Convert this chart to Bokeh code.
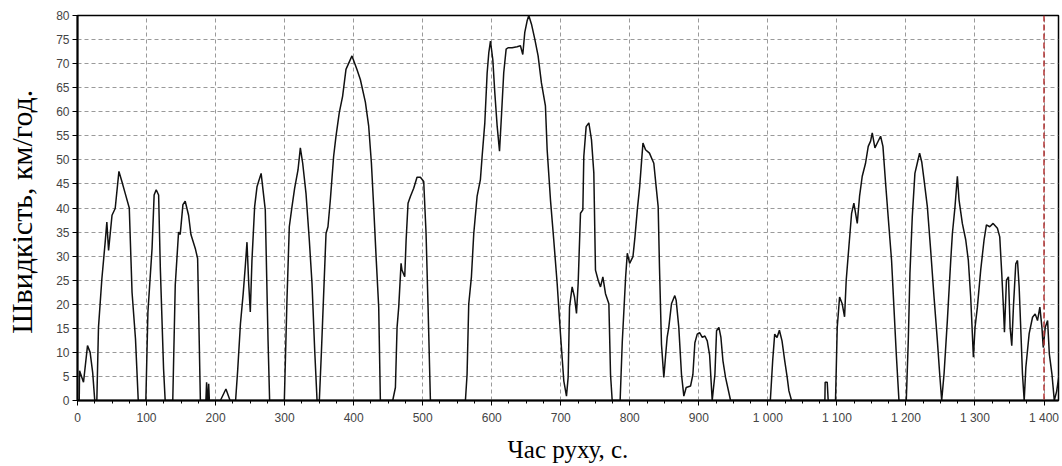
from bokeh.plotting import figure
from bokeh.models import Range1d, FixedTicker, Span
from bokeh.embed import file_html
from bokeh.resources import INLINE

# time, s
t = [0, 2.5, 3, 8.7, 14.5, 18.3, 22, 25, 28, 30.4, 35.3, 40.1, 42.5, 45, 50, 54.6, 60, 64.3, 69, 75, 79, 84, 88,
     99, 102, 108, 111, 114, 117.5, 120, 124.7, 127,
     138, 141.6, 146.4, 148.8, 152.7, 156, 160.9, 164.3, 170.6, 174, 178,
     186, 187, 188, 189, 190, 191, 207, 215, 221,
     229, 232, 236, 240, 243, 245.5, 248, 250.3, 252.7, 256.6, 260, 266, 272, 276, 278.3,
     299.6, 303.4, 306.8, 310.7, 314.5, 319.4, 322.8, 326.2, 331, 335.8, 339.7, 343.6, 347,
     350.3, 353.2, 355.1, 360, 362.8, 366.2, 371, 374.4, 379.2, 384, 388.9, 397.6, 404.8, 409.7, 417, 421.8,
     425.7, 429, 432.5, 436.3, 438.7,
     456.6, 460.5, 462.9, 465.3, 468.7, 470, 474, 476, 478.8, 482.2, 487, 491.8, 496.7, 501.5, 504.9, 507.8, 511.2,
     561.9, 564.3, 566.7, 570.6, 574, 578.8, 583.6, 586.1, 590, 593.4, 595.8, 598.2, 601.6, 604.5, 607.9, 611.3,
     614.1, 617.4, 620.9, 623.7, 629.5, 636.8, 641.6, 645, 647.9, 651.3, 653.7, 657.6, 662.4, 667.2, 672, 677.8,
     680.3, 685.1, 689.9, 694.8, 699.6, 704.4, 708.3, 710.7, 712.7, 716.5, 719.9, 722.8, 725.2, 728.6, 732,
     733.4, 736.8, 740.7, 744.5, 747.9, 750.3, 754.2, 757.6, 761, 764.8, 769.7, 772.1, 774.5,
     786, 789.1, 794, 796.4, 799.8, 804.6, 807.5, 810.9, 814.3, 817.2, 819.1, 822.8, 828.5, 834.8, 838.2, 841.1,
     843, 845.9, 849.3, 851.7, 854.1, 856.5, 860.4, 865.2, 867.2, 871, 874.9, 878.3, 881.7, 888, 891.4, 894.3,
     897.7, 901.1, 905, 908.8, 912.2, 915.6, 919.4, 923.3, 925.7, 929.1, 932, 934.9, 938.7, 946,
     1003.6, 1007, 1009.9, 1013.3, 1016.7, 1020.5, 1024.4, 1028, 1030.5, 1034.3,
     1082.6, 1083, 1086, 1087.4,
     1098, 1100.5, 1103.9, 1107.7, 1111.1, 1113.5, 1117.4, 1121.3, 1124.6, 1129.5, 1132.8, 1136.7, 1141.5,
     1145.4, 1148.8, 1151.2, 1155.1, 1158.5, 1163.3, 1166.7, 1170.5, 1175.4, 1179.2, 1182.6, 1186, 1189.9,
     1200.5, 1203.4, 1205.8, 1209.2, 1213, 1216.4, 1219.8, 1223, 1226.2, 1231, 1235.8, 1240.7, 1245.5, 1248.9,
     1251.8, 1255.2, 1260, 1264.9, 1267.3, 1271.1, 1274.5, 1276.9, 1281.7, 1286.6, 1290.4, 1293.8, 1296.2,
     1297.7, 1300.1, 1303.5, 1308.3, 1313.2, 1316.6, 1321.4, 1326.3, 1332.5, 1335.9, 1338.8, 1341.2, 1342.7,
     1345.6, 1348.5, 1350.9, 1353.3, 1355.7, 1359.1, 1361.6, 1364, 1366.4, 1368.8, 1371.3, 1373.7, 1378.5,
     1383.4, 1387.2, 1390.6, 1394, 1397, 1398.9, 1401.8, 1405.2, 1407.7, 1411.5, 1414.9, 1418.3, 1422]

# speed, km/h
v = [0, 0, 6.2, 3.8, 11.4, 10, 5.8, 0, 0, 15.2, 25.3, 32.9, 37.1, 31.2, 38.5, 39.9, 47.6, 45.5, 43.1, 40, 22.5, 12.8, 0,
     0, 18.4, 31.6, 42.7, 43.8, 42.7, 27.4, 6.5, 0,
     0, 24, 35, 34.5, 40.7, 41.4, 38.5, 34.5, 31.6, 29.5, 0,
     0, 3.8, 0, 0, 3.5, 0, 0, 2.4, 0,
     0, 6.2, 15.9, 22.2, 27.8, 32.9, 24.3, 18.4, 29.1, 40.3, 44.4, 47.2, 39.6, 12.5, 0,
     0, 20.8, 36.1, 40.3, 44.1, 47.9, 52.5, 49.3, 43, 33.3, 24.3, 10.4, 0,
     0, 9.7, 16.7, 34.7, 36.1, 41.6, 50.7, 54.9, 59.8, 63.2, 68.8, 71.6, 68.8, 66.7, 62, 57,
     49.4, 40.3, 29.9, 19.4, 0,
     0, 2.7, 15.2, 19.4, 28.5, 27.1, 25.7, 33.3, 41, 42.4, 44.1, 46.4, 46.4, 45.5, 34.7, 19.4, 0,
     0, 5.4, 20, 25.7, 34.7, 42.4, 45.9, 50.7, 57.7, 68.1, 72.3, 74.7, 70.8, 63.9, 57, 51.8,
     59.1, 68.1, 73, 73.3, 73.3, 73.5, 73.7, 71.9, 76.5, 78.9, 80, 78.2, 75.1, 71.6, 66, 61.2,
     52.1, 41.7, 33.3, 24.3, 13.8, 4.1, 0.9, 4.8, 19.4, 23.6, 21.5, 18.1, 24.3, 38.9, 39.6,
     50.7, 56.9, 57.7, 54.2, 47.3, 27.1, 25, 23.6, 25.7, 22.2, 20.1, 5.4, 0,
     0, 12.1, 25.7, 30.6, 28.5, 29.9, 34, 39.6, 44.4, 50, 53.5, 52.1, 51.4, 49.3, 44.4, 40.3,
     27.8, 11.7, 4.8, 9, 13.1, 15.2, 20.1, 21.8, 20.8, 15.2, 5.4, 0.9, 2.7, 3, 5.4, 12,
     13.8, 14.1, 13.1, 13.4, 12.4, 9.5, 0, 5.4, 14.5, 15.2, 13.1, 8.3, 4.8, 0,
     0, 8.3, 13.8, 13.1, 14.6, 12.4, 8.3, 4.8, 2, 0,
     0, 3.8, 3.8, 0,
     0, 15.2, 21.5, 20.1, 17.4, 25, 32, 38.9, 41, 36.8, 42.4, 46.6, 49.3,
     52.8, 53.9, 55.6, 52.5, 53.5, 54.9, 52.8, 45.2, 36.1, 29.1, 19.4, 9.7, 0,
     0, 12.4, 26.4, 38.2, 47.2, 49.3, 51.4, 49.5, 45.9, 40.3, 31.3, 21.5, 12.5, 5.5,
     0, 5.5, 16.6, 29.1, 34.7, 40.3, 46.6, 41.7, 36.8, 33.4, 29.1, 21.5, 13.9,
     9, 15.2, 19.4, 27.1, 33.4, 36.5, 36.1, 36.8, 35.8, 34, 26.4, 19.4, 14.2,
     25, 25.7, 15.2, 11.4, 19.4, 28.4, 29.1, 23.6, 14.7, 5.5, 0, 6.9, 13.9,
     17.3, 18, 16.6, 19.4, 15.2, 11, 15.2, 16.6, 9.7, 5.5, 0, 1.9, 5.5]

x_ticks = list(range(0, 1401, 100))
x_minor = list(range(0, 1421, 25))
y_ticks = list(range(0, 81, 5))
x_tick_labels = {1000: "1 000", 1100: "1 100", 1200: "1 200", 1300: "1 300", 1400: "1 400"}
marker_time = 1400

p = figure(width=1060, height=465, output_backend="svg", toolbar_location=None,
           x_range=Range1d(0, 1421), y_range=Range1d(0, 80),
           min_border_left=77, min_border_top=15, min_border_right=2, min_border_bottom=60)

p.line(t, v, line_color="#111111", line_width=1.5)

p.add_layout(Span(location=marker_time, dimension="height", line_color="#b03030",
                  line_dash="6 3", line_width=1.5))

p.xaxis.ticker = FixedTicker(ticks=x_ticks, minor_ticks=x_minor)
p.yaxis.ticker = FixedTicker(ticks=y_ticks)
p.xaxis.major_label_overrides = x_tick_labels

for ax in (p.xaxis[0], p.yaxis[0]):
    ax.axis_line_color = "black"
    ax.axis_line_width = 2
    ax.major_tick_line_color = "black"
    ax.major_tick_out = 5
    ax.major_tick_in = 0
    ax.minor_tick_line_color = "black"
    ax.minor_tick_out = 3
    ax.minor_tick_in = 0
    ax.major_label_text_font = "Liberation Sans"
    ax.major_label_text_font_size = "12px"
    ax.major_label_text_color = "#444444"
    ax.axis_label_text_font = "Liberation Serif"
    ax.axis_label_text_font_style = "normal"
    ax.axis_label_text_color = "black"

p.yaxis.minor_tick_line_color = None
p.xaxis.axis_label = "Час руху, с."
p.yaxis.axis_label = "Швидкість,  км/год."
p.xaxis.axis_label_text_font_size = "25px"
p.yaxis.axis_label_text_font_size = "30px"
p.xaxis.major_label_standoff = 5
p.yaxis.major_label_standoff = 3
p.xaxis.axis_label_standoff = 8
p.yaxis.axis_label_standoff = 15

p.xgrid.ticker = FixedTicker(ticks=x_ticks)
p.ygrid.ticker = FixedTicker(ticks=y_ticks)
p.grid.grid_line_color = "#9a9a9a"
p.grid.grid_line_dash = "4 3"
p.grid.grid_line_width = 1

p.outline_line_color = "black"
p.outline_line_width = 1.5
p.background_fill_color = "white"
p.border_fill_color = "white"

open("out.html", "w").write(file_html(p, INLINE))
